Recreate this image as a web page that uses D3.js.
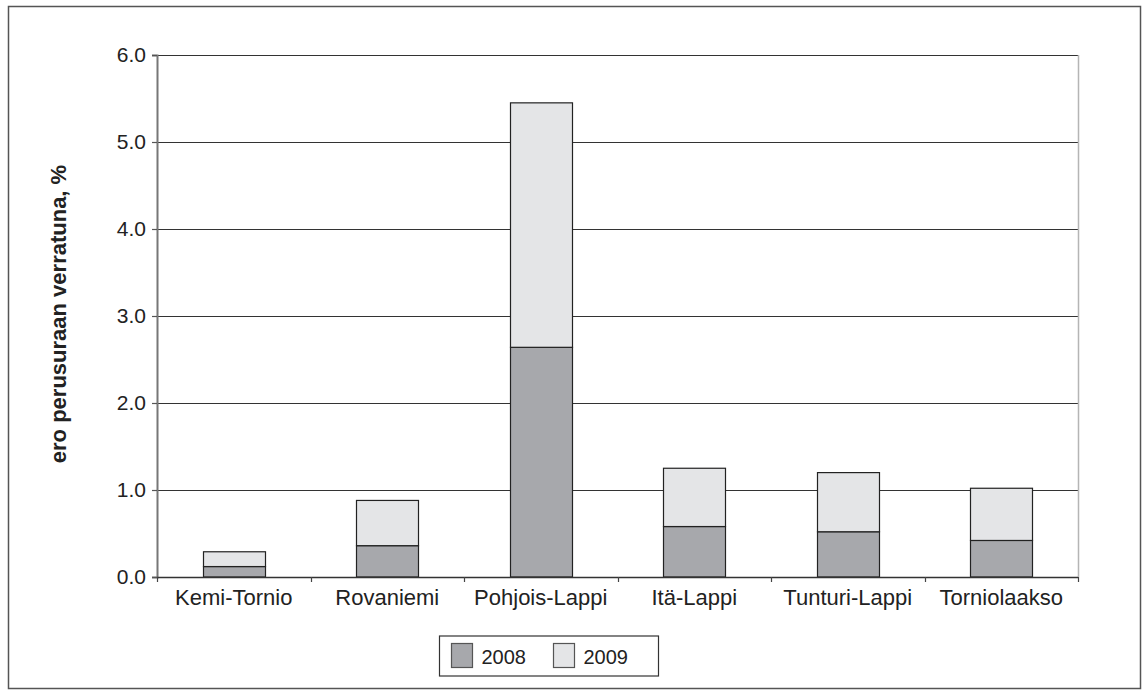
<!DOCTYPE html>
<html>
<head>
<meta charset="utf-8">
<script src="https://cdn.jsdelivr.net/npm/d3@7"></script>
<style>
  html, body { margin: 0; padding: 0; background: #fff; }
  svg { display: block; font-family: "Liberation Sans", Arial, sans-serif; }
</style>
</head>
<body>
<svg id="chart" width="1143" height="695"></svg>
<script>
// Regions of Lapland and the difference to the baseline, % (stacked by year)
const regions = ["Kemi-Tornio", "Rovaniemi", "Pohjois-Lappi", "Itä-Lappi", "Tunturi-Lappi", "Torniolaakso"];
const values2008 = [0.12, 0.36, 2.64, 0.58, 0.52, 0.42];
const values2009 = [0.17, 0.52, 2.81, 0.67, 0.68, 0.60];
const seriesNames = ["2008", "2009"];
const yTicks = [0, 1, 2, 3, 4, 5, 6];
const yTitle = "ero perusuraan verratuna, %";

const colors = { "2008": "#a7a8ac", "2009": "#e4e5e7" };

const svg = d3.select("#chart");
const plot = { left: 157, right: 1078, top: 55, bottom: 577 };

// outer frame
svg.append("rect")
  .attr("x", 8.5).attr("y", 6.5)
  .attr("width", 1132).attr("height", 682)
  .attr("fill", "#fff").attr("stroke", "#555").attr("stroke-width", 1.5);

const x = d3.scaleBand().domain(regions).range([plot.left, plot.right]).paddingInner(0.595).paddingOuter(0.2975);
const y = d3.scaleLinear().domain([0, 6]).range([plot.bottom, plot.top]);

const rows = regions.map((r, i) => ({ region: r, "2008": values2008[i], "2009": values2009[i] }));
const stacked = d3.stack().keys(seriesNames)(rows);

// grid lines
svg.append("g").selectAll("line")
  .data(yTicks.filter(t => t > 0))
  .join("line")
  .attr("x1", plot.left).attr("x2", plot.right)
  .attr("y1", d => Math.round(y(d)) + 0.5).attr("y2", d => Math.round(y(d)) + 0.5)
  .attr("stroke", "#333").attr("stroke-width", 1.2);

// right edge of the plot area
svg.append("line")
  .attr("x1", plot.right + 0.5).attr("x2", plot.right + 0.5)
  .attr("y1", plot.top).attr("y2", plot.bottom)
  .attr("stroke", "#b5b5b5").attr("stroke-width", 1.5);

// bars
const bandX = d => x(d.data.region);
svg.append("g").selectAll("g")
  .data(stacked)
  .join("g")
  .attr("fill", d => colors[d.key])
  .selectAll("rect")
  .data(d => d)
  .join("rect")
  .attr("x", d => Math.round(bandX(d)) + 0.5)
  .attr("width", Math.round(x.bandwidth()))
  .attr("y", d => y(d[1]))
  .attr("height", d => y(d[0]) - y(d[1]))
  .attr("stroke", "#222").attr("stroke-width", 1.2);

// y axis
const yAxis = d3.axisLeft(y).tickValues(yTicks).tickFormat(d3.format(".1f")).tickSize(5).tickPadding(6);
const gy = svg.append("g").attr("transform", `translate(${plot.left},0)`).call(yAxis);
gy.select(".domain").attr("stroke", "#777").attr("stroke-width", 2);
gy.selectAll(".tick line").attr("stroke", "#555").attr("stroke-width", 1.2);
gy.selectAll(".tick text").attr("fill", "#222").attr("font-size", 21);

// x axis
const xAxis = d3.axisBottom(x).tickSize(0).tickPadding(12);
const gx = svg.append("g").attr("transform", `translate(0,${plot.bottom})`).call(xAxis);
gx.select(".domain").attr("stroke", "#333").attr("stroke-width", 1.5).attr("d", `M${plot.left},0.5H${plot.right}`);
gx.selectAll(".tick text").attr("fill", "#222").attr("font-size", 22);

// x axis separators between categories
const edges = regions.map(r => x(r) - x.step() * x.paddingInner() / 2).concat([plot.right]);
svg.append("g").selectAll("line")
  .data(edges)
  .join("line")
  .attr("x1", d => Math.round(d) + 0.5).attr("x2", d => Math.round(d) + 0.5)
  .attr("y1", plot.bottom).attr("y2", plot.bottom + 5)
  .attr("stroke", "#444").attr("stroke-width", 1.2);

// y axis title
svg.append("text")
  .attr("transform", "translate(66,314) rotate(-90)")
  .attr("text-anchor", "middle")
  .attr("font-size", 22).attr("font-weight", "bold").attr("fill", "#222")
  .text(yTitle);

// legend
const legend = svg.append("g").attr("transform", "translate(439.5,636)");
legend.append("rect").attr("width", 219).attr("height", 40)
  .attr("fill", "#fff").attr("stroke", "#333").attr("stroke-width", 1.2);
const items = legend.selectAll("g.item")
  .data(seriesNames)
  .join("g")
  .attr("class", "item")
  .attr("transform", (d, i) => `translate(${12 + i * 102},7.5)`);
items.append("rect").attr("width", 21).attr("height", 24)
  .attr("fill", d => colors[d]).attr("stroke", "#555").attr("stroke-width", 1.2);
items.append("text").attr("x", 30).attr("y", 20)
  .attr("font-size", 20).attr("fill", "#222")
  .text(d => d);
</script>
</body>
</html>
